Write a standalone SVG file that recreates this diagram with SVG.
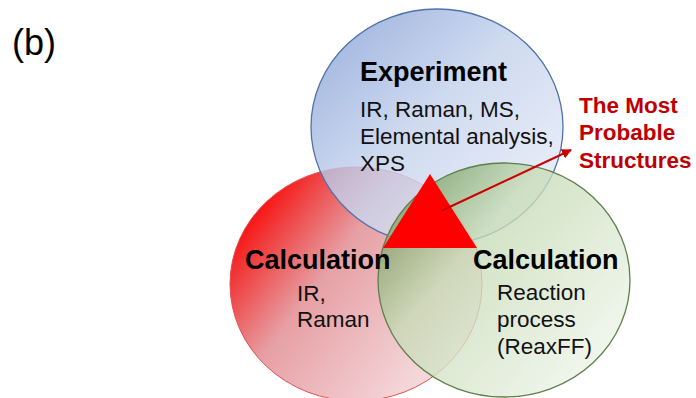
<svg xmlns="http://www.w3.org/2000/svg" width="696" height="398" viewBox="0 0 696 398">
  <style>
    .head { font-family: "Liberation Sans", Arial, sans-serif; font-weight: bold; font-size: 27px; fill: #000; }
    .body { font-family: "Liberation Sans", Arial, sans-serif; font-size: 22.5px; fill: #111; }
    .res { font-family: "Liberation Sans", Arial, sans-serif; font-weight: bold; font-size: 22.5px; fill: #c00000; }
    .lbl { font-family: "Liberation Sans", Arial, sans-serif; font-size: 36px; fill: #000; }
  </style>
  <defs>
    <linearGradient id="gBlue" x1="0" y1="0" x2="1" y2="1">
      <stop offset="0" stop-color="#7c99d3"/>
      <stop offset="0.45" stop-color="#c3d1ec"/>
      <stop offset="1" stop-color="#eef2fa"/>
    </linearGradient>
    <linearGradient id="gRed" x1="0" y1="0.25" x2="1" y2="0.95">
      <stop offset="0" stop-color="#ff0000"/>
      <stop offset="0.12" stop-color="#f03a3a"/>
      <stop offset="0.35" stop-color="#e6a0a5"/>
      <stop offset="1" stop-color="#faeef0"/>
    </linearGradient>
    <linearGradient id="gGreen" x1="0" y1="0.1" x2="1" y2="0.9">
      <stop offset="0" stop-color="#5f8d46"/>
      <stop offset="0.35" stop-color="#c6dbb5"/>
      <stop offset="1" stop-color="#f4f8f1"/>
    </linearGradient>
    <marker id="arrow" viewBox="0 0 10 10" refX="9" refY="5" markerWidth="5" markerHeight="5" orient="auto">
      <path d="M0,0 L10,5 L0,10 z" fill="#cc0000"/>
    </marker>
  </defs>

  <text class="lbl" x="12" y="55">(b)</text>

  <g id="calc-ir">
    <ellipse cx="356" cy="284" rx="126" ry="117" fill="url(#gRed)" stroke="#e05050" stroke-width="1"/>
  </g>
  <g id="experiment">
    <ellipse cx="437" cy="127" rx="126" ry="118" fill="url(#gBlue)" fill-opacity="0.8" stroke="#4f72a8" stroke-width="1.3"/>
  </g>
  <g id="calc-reaxff">
    <ellipse cx="504" cy="280" rx="126" ry="117" fill="url(#gGreen)" fill-opacity="0.78" stroke="#5e7f4c" stroke-width="1.3"/>
  </g>

  <g id="experiment-text">
    <text class="head" x="360" y="81">Experiment</text>
    <text class="body" x="360" y="117">IR, Raman, MS,</text>
    <text class="body" x="360" y="144">Elemental analysis,</text>
    <text class="body" x="360" y="171">XPS</text>
  </g>
  <g id="calc-ir-text">
    <text class="head" x="245" y="269">Calculation</text>
    <text class="body" x="297" y="301">IR,</text>
    <text class="body" x="297" y="327">Raman</text>
  </g>
  <g id="calc-reaxff-text">
    <text class="head" x="473" y="269">Calculation</text>
    <text class="body" x="497" y="300">Reaction</text>
    <text class="body" x="497" y="327">process</text>
    <text class="body" x="497" y="354">(ReaxFF)</text>
  </g>

  <g id="result">
    <polygon points="430,174 383,248 477,248" fill="#ff0000"/>
  </g>
  <g id="result-label">
    <text class="res" x="579" y="113">The Most</text>
    <text class="res" x="579" y="140">Probable</text>
    <text class="res" x="579" y="168">Structures</text>
  </g>

  <g id="connectors">
    <line x1="441" y1="211" x2="571" y2="150" stroke="#cc0000" stroke-width="2" marker-end="url(#arrow)"/>
  </g>
</svg>
